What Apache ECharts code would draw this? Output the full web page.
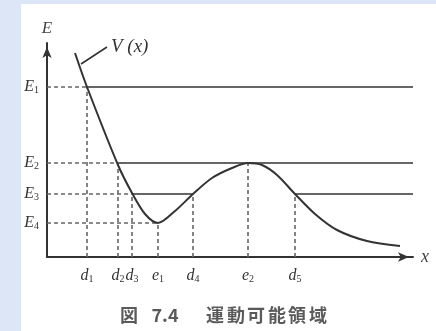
<!DOCTYPE html>
<html><head><meta charset="utf-8">
<script src="https://cdn.jsdelivr.net/npm/echarts@6/dist/echarts.min.js"></script>
<style>html,body{margin:0;padding:0;background:#dde6f6;}#c{width:436px;height:331px;}</style>
</head><body><div id="c"></div>
<script>
// Energy levels (y) and their names
const levelNames = ['E1', 'E2', 'E3', 'E4'];
const levelValues = [170, 94, 63, 34];
// Turning points / extrema on the x axis
const pointNames = ['d1', 'd2', 'd3', 'e1', 'd4', 'e2', 'd5'];
const pointX = [40, 71, 85, 111, 146, 201, 248];
const pointY = [170, 94, 63, 34, 63, 94, 63];
// Potential curve V(x)
const curveX = [28, 40, 71, 85, 98, 111, 128, 146, 165, 185, 201, 215, 230, 248, 268, 290, 320, 353];
const curveY = [204, 170, 92, 64, 43, 34, 46, 63, 79, 89, 94, 92, 82, 63, 43, 27, 16, 11];
// Solid level segments: [level value, x start, x end]
const xEnd = 366;
const solidSegments = [
  [170, 40, xEnd],
  [94, 71, xEnd],
  [63, 85, 146],
  [63, 248, xEnd]
];
// Dashed level lines from the y axis to the first crossing
const dashLevelEnds = [40, 71, 85, 111];
// Leader line for the V(x) annotation
const leaderX = [34, 60];
const leaderY = [193, 210];
const curveName = 'V (x)';
const caption = ['図', '7.4', '運', '動', '可', '能', '領', '域'];

const serif = '"Liberation Serif","DejaVu Serif",serif';
const rich = {
  i: {fontFamily: serif, fontStyle: 'italic', fontSize: 16, color: '#333'},
  s: {fontFamily: serif, fontSize: 10, color: '#333', padding: [7, 0, 0, 0]}
};
function sub(name) { return '{i|' + name[0] + '}{s|' + name.slice(1) + '}'; }

const series = [];
series.push({
  type: 'line', data: curveX.map((x, i) => [x, curveY[i]]), smooth: 0.3,
  symbol: 'none', clip: false, z: 5,
  lineStyle: {color: '#333', width: 2}
});
solidSegments.forEach(s => series.push({
  type: 'line', data: [[s[1], s[0]], [s[2], s[0]]], symbol: 'none', clip: false,
  lineStyle: {color: '#666', width: 2}
}));
levelValues.forEach((v, i) => series.push({
  type: 'line', data: [[0, v], [dashLevelEnds[i], v]], symbol: 'none', clip: false,
  lineStyle: {color: '#666', width: 1.6, type: [4, 3]}
}));
pointX.forEach((x, i) => series.push({
  type: 'line', data: [[x, 0], [x, pointY[i]]], symbol: 'none', clip: false,
  lineStyle: {color: '#666', width: 1.6, type: [4, 3]}
}));
series.push({
  type: 'line', data: leaderX.map((x, i) => [x, leaderY[i]]), symbol: 'none', clip: false,
  lineStyle: {color: '#333', width: 1.6},
  endLabel: {show: true, formatter: curveName, fontFamily: serif, fontStyle: 'italic',
    fontSize: 19, color: '#333', distance: 4}
});

const capX = [129, 165, 215, 236, 256, 277, 297, 318];
const graphic = [{type: 'rect', shape: {x: 21, y: 4, width: 415, height: 327}, style: {fill: '#fff'}, z: -100, silent: true}];
caption.forEach((t, i) => graphic.push({
  type: 'text', x: capX[i], y: 315, silent: true,
  style: {text: t, fontFamily: '"Noto Sans CJK JP"', fontSize: 18, fontWeight: 'bold',
    fill: '#5a5a5a', align: 'center', verticalAlign: 'middle'}
}));

const chart = echarts.init(document.getElementById('c'));
chart.setOption({
  animation: false,
  backgroundColor: 'transparent',
  grid: {left: 47, right: 23, top: 43, bottom: 74},
  graphic: graphic,
  xAxis: {
    type: 'value', min: 0, max: xEnd,
    name: 'x', nameLocation: 'end', nameGap: 8,
    nameTextStyle: {fontFamily: serif, fontStyle: 'italic', fontSize: 18, color: '#444', verticalAlign: 'middle'},
    axisLine: {lineStyle: {color: '#333', width: 2}, symbol: ['none', 'arrow'], symbolSize: [7, 11], symbolOffset: [0, -4]},
    axisTick: {show: false}, splitLine: {show: false},
    axisLabel: {customValues: pointX, margin: 10, rich: rich,
      formatter: v => sub(pointNames[pointX.indexOf(v)])}
  },
  yAxis: {
    type: 'value', min: 0, max: 214,
    name: 'E', nameLocation: 'end', nameGap: 6,
    nameTextStyle: {fontFamily: serif, fontStyle: 'italic', fontSize: 17, color: '#444', align: 'center'},
    axisLine: {lineStyle: {color: '#333', width: 2}, symbol: ['none', 'arrow'], symbolSize: [7, 11], symbolOffset: [0, -4]},
    axisTick: {show: false}, splitLine: {show: false},
    axisLabel: {customValues: levelValues, margin: 8, rich: rich,
      formatter: v => sub(levelNames[levelValues.indexOf(v)])}
  },
  series: series
});
</script></body></html>
